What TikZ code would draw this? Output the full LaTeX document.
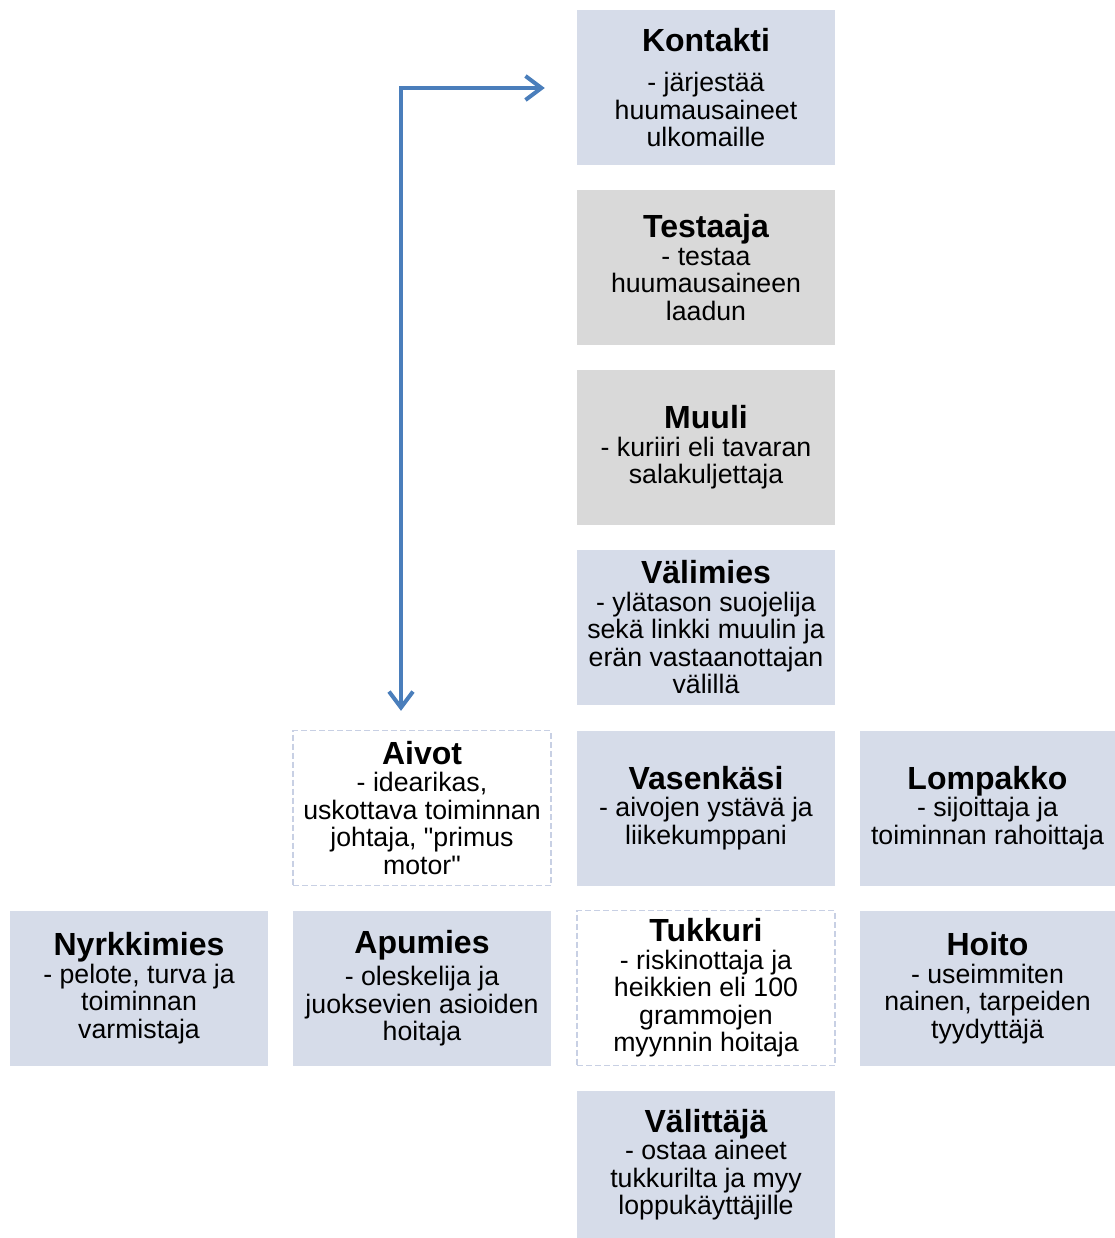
\documentclass[tikz,border=0pt]{standalone}
\usepackage{fontspec}
\setmainfont{Liberation Sans}[Ligatures=TeXOff]
\usetikzlibrary{arrows.meta}
\definecolor{boxblue}{HTML}{D6DCE9}
\definecolor{boxgrey}{HTML}{D9D9D9}
\definecolor{dashc}{HTML}{C8D0E4}
\definecolor{arrc}{HTML}{4A7EBB}
\newcommand{\ttl}[1]{{\fontsize{32}{33}\selectfont\bfseries #1}}
\tikzset{
  basebox/.style={minimum width=258pt, minimum height=155pt, inner sep=0pt, align=center, anchor=center,
    font=\fontsize{26.7}{27.5}\selectfont},
  bluebox/.style={basebox, fill=boxblue},
  greybox/.style={basebox, fill=boxgrey},
  dashbox/.style={basebox, draw=dashc, dash pattern=on 6pt off 3pt, line width=1.2pt, fill=white},
  arr/.style={draw=arrc, line width=4pt, {Straight Barb[length=16pt,width=24pt,line width=4pt]}-{Straight Barb[length=16pt,width=24pt,line width=4pt]}}
}
\begin{document}
\begin{tikzpicture}[x=1pt,y=-1pt]
\useasboundingbox (0,0) rectangle (1115,1238);
\node[bluebox] (kontakti) at (706,87.5) {\ttl{Kontakti}\\[13pt]- järjestää\\huumausaineet\\ulkomaille};
\node[greybox] (testaaja) at (706,267.5) {\ttl{Testaaja}\\- testaa\\huumausaineen\\laadun};
\node[greybox] (muuli) at (706,447.5) {\ttl{Muuli}\\- kuriiri eli tavaran\\salakuljettaja};
\node[bluebox] (valimies) at (706,627.5) {\ttl{Välimies}\\- ylätason suojelija\\sekä linkki muulin ja\\erän vastaanottajan\\välillä};
\node[dashbox] (aivot) at (422,808) {\ttl{Aivot}\\- idearikas,\\uskottava toiminnan\\johtaja, "primus\\motor"};
\node[bluebox] (vasen) at (706,808) {\ttl{Vasenkäsi}\\- aivojen ystävä ja\\liikekumppani};
\node[bluebox, minimum width=255pt] (lompakko) at (987.5,808) {\ttl{Lompakko}\\- sijoittaja ja\\toiminnan rahoittaja};
\node[bluebox] (nyrkki) at (139,988) {\ttl{Nyrkkimies}\\- pelote, turva ja\\toiminnan\\varmistaja};
\node[bluebox] (apumies) at (422,988) {\ttl{Apumies}\\[5pt]- oleskelija ja\\juoksevien asioiden\\hoitaja};
\node[dashbox] (tukkuri) at (706,988) {\ttl{Tukkuri}\\- riskinottaja ja\\heikkien eli 100\\grammojen\\myynnin hoitaja};
\node[bluebox, minimum width=255pt] (hoito) at (987.5,988) {\ttl{Hoito}\\- useimmiten\\nainen, tarpeiden\\tyydyttäjä};
\node[bluebox, minimum height=147pt] (valittaja) at (706,1164.5) {\ttl{Välittäjä}\\- ostaa aineet\\tukkurilta ja myy\\loppukäyttäjille};
\draw[arr] ([xshift=-21pt,yshift=19pt]aivot.north) |- ([xshift=-32pt,yshift=-0.5pt]kontakti.west);
\end{tikzpicture}
\end{document}
